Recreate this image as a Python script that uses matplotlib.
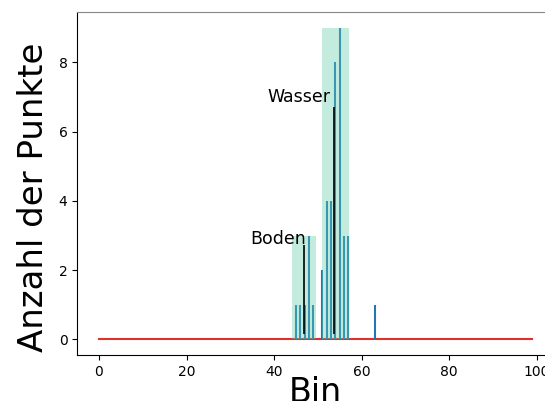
import matplotlib
matplotlib.use('Agg')
import matplotlib.pyplot as plt
import numpy as np

# histogram counts per bin (only non-empty bins listed)
bins_used = [45, 46, 47, 48, 49, 51, 52, 53, 54, 55, 56, 57, 63]
counts = [1, 1, 1, 3, 1, 2, 4, 4, 8, 9, 3, 3, 1]

n_bins = 100
baseline = np.zeros(n_bins)

# detected clusters: name, start, end, peak height, marker x, marker height
cluster_names = ['Boden', 'Wasser']
cluster_start = [44.1, 50.9]
cluster_end = [49.5, 57.1]
cluster_peak = [3, 9]
marker_x = [46.8, 53.8]
marker_h = [2.72, 6.72]
label_x = [47.3, 52.8]
label_y = [2.75, 6.85]

fig = plt.figure(figsize=(5.45, 4.01), dpi=100)
ax = fig.add_axes([0.1418, 0.1147, 0.8747, 0.855])

ax.plot(np.arange(n_bins), baseline, color='#e0302e', lw=1.5)
ax.vlines(bins_used, 0, counts, color='#1f77b4', lw=1.5)

for i, name in enumerate(cluster_names):
    ax.bar(cluster_start[i], cluster_peak[i],
           width=cluster_end[i] - cluster_start[i], align='edge',
           color='mediumaquamarine', alpha=0.38, zorder=3)
    ax.vlines(marker_x[i], 0.15, marker_h[i], color='black', lw=1.2, zorder=4)
    ax.text(label_x[i], label_y[i], name, ha='right', va='baseline',
            fontsize=12.5, zorder=5)

ax.set_xlim(-4.95, 103.95)
ax.set_ylim(-0.45, 9.45)
ax.set_xticks([0, 20, 40, 60, 80, 100])
ax.set_yticks([0, 2, 4, 6, 8])
ax.spines['right'].set_visible(False)
ax.spines['top'].set_color('#888888')
ax.set_xlabel('Bin', fontsize=24, labelpad=-2)
ax.set_ylabel('Anzahl der Punkte', fontsize=24.5)
ax.yaxis.set_label_coords(-0.057, 0.46)

fig.savefig('out.png', dpi=100)
